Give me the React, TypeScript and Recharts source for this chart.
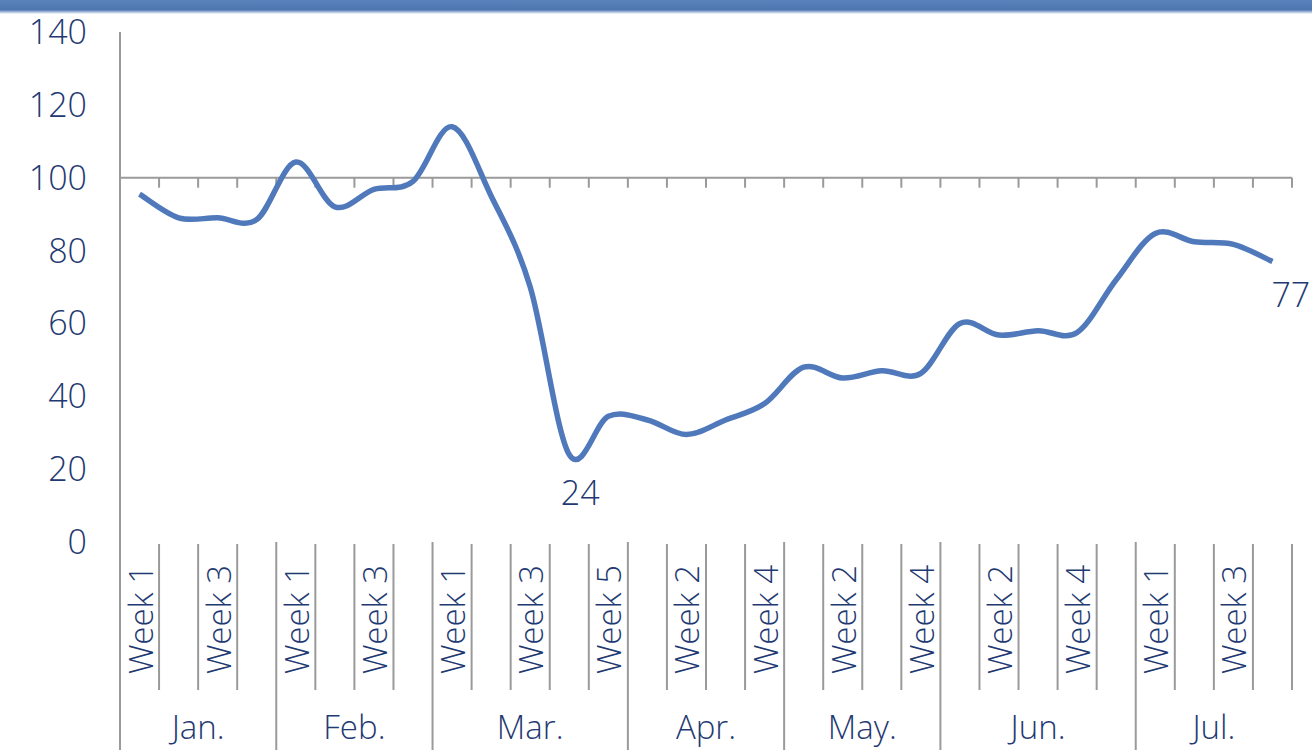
import React from 'react';
import { LineChart, Line, XAxis, YAxis, ReferenceLine, LabelList } from 'recharts';

const months = ['Jan.', 'Feb.', 'Mar.', 'Apr.', 'May.', 'Jun.', 'Jul.'];
const weeksPerMonth = [4, 4, 5, 4, 4, 5, 4];
const values = [
  95.5, 89, 89, 88.5, 104.3, 92, 96.8, 99,
  114, 95, 70, 24, 34.5, 33.5,
  29.5, 33.5, 38, 48, 45, 47, 46.3,
  60, 56.8, 58, 57.5, 72, 84.7, 82.4, 81.7, 77,
];
const yTicks = [0, 20, 40, 60, 80, 100, 120, 140];
const crossAt = 100; // horizontal axis crosses here
const labeledPoints = [11, 29];

const W = 1312;
const H = 750;
const MARGIN = { top: 32, right: 20, left: 0, bottom: 0 };
const Y_AXIS_W = 120;
const X_AXIS_H = 208;
const TEXT = '#1f3a72';
const GRID = '#9a9a9a';
const LINE = '#5079bc';
const FONT = '"Open Sans", "Liberation Sans", sans-serif';
const WEIGHT = 300;

// build week categories from the month table
const monthStart: number[] = [];
const weekMonth: number[] = [];
const data: { key: string; week: string; value: number }[] = [];
months.forEach((m, mi) => {
  monthStart.push(data.length);
  for (let w = 1; w <= weeksPerMonth[mi]; w++) {
    weekMonth.push(mi);
    data.push({ key: `${m} Week ${w}`, week: `Week ${w}`, value: values[data.length] });
  }
});

const BAND = (W - MARGIN.right - Y_AXIS_W) / data.length;

// Excel-style smoothed line (Catmull-Rom through the points)
const smoothCurve = (context: any) => {
  let pts: number[][] = [];
  return {
    areaStart() {},
    areaEnd() {},
    lineStart() {
      pts = [];
    },
    point(x: number, y: number) {
      pts.push([+x, +y]);
    },
    lineEnd() {
      if (!pts.length) return;
      context.moveTo(pts[0][0], pts[0][1]);
      for (let i = 0; i < pts.length - 1; i++) {
        const p0 = pts[i - 1] || pts[i];
        const p1 = pts[i];
        const p2 = pts[i + 1];
        const p3 = pts[i + 2] || pts[i + 1];
        context.bezierCurveTo(
          p1[0] + (p2[0] - p0[0]) / 6,
          p1[1] + (p2[1] - p0[1]) / 6,
          p2[0] - (p3[0] - p1[0]) / 6,
          p2[1] - (p3[1] - p1[1]) / 6,
          p2[0],
          p2[1]
        );
      }
    },
  };
};

const WeekTick = (props: any) => {
  const { x, y, payload } = props;
  const i = payload.index;
  const left = x - BAND / 2;
  const isStart = monthStart.includes(i);
  const mi = weekMonth[i];
  return (
    <g>
      {isStart ? (
        <line x1={left} y1={y} x2={left} y2={H} stroke={GRID} strokeWidth={2} />
      ) : (
        <line x1={left} y1={y + 2} x2={left} y2={y + 148} stroke={GRID} strokeWidth={2} />
      )}
      {i === data.length - 1 && (
        <line x1={x + BAND / 2} y1={y + 2} x2={x + BAND / 2} y2={y + 148} stroke={GRID} strokeWidth={2} />
      )}
      {i % 2 === 0 && (
        <text
          x={x + 13}
          y={y + 23}
          transform={`rotate(-90 ${x + 13} ${y + 23})`}
          textAnchor="end"
          fill={TEXT}
          fontSize={33}
          fontWeight={WEIGHT}
          fontFamily={FONT}
        >
          {data[i].week}
        </text>
      )}
      {isStart && (
        <text
          x={left + (weeksPerMonth[mi] * BAND) / 2}
          y={y + 197}
          textAnchor="middle"
          fill={TEXT}
          fontSize={33}
          fontWeight={WEIGHT}
          fontFamily={FONT}
        >
          {months[mi]}
        </text>
      )}
    </g>
  );
};

const CrossLine = (props: any) => {
  const { x1, y1, x2 } = props;
  const step = (x2 - x1) / data.length;
  return (
    <g>
      <line x1={x1} y1={y1} x2={x2} y2={y1} stroke={GRID} strokeWidth={2} />
      {data.map((d, k) => (
        <line
          key={d.key}
          x1={x1 + step * (k + 1)}
          y1={y1}
          x2={x1 + step * (k + 1)}
          y2={y1 + 10}
          stroke={GRID}
          strokeWidth={2}
        />
      ))}
    </g>
  );
};

const PointLabel = (props: any) => {
  const { x, y, value, index } = props;
  if (!labeledPoints.includes(index)) return null;
  const last = index === data.length - 1;
  return (
    <text
      x={last ? x - 1 : x + 11}
      y={last ? y + 45 : y + 50}
      textAnchor={last ? 'start' : 'middle'}
      fill={TEXT}
      fontSize={34}
      fontWeight={WEIGHT}
      fontFamily={FONT}
    >
      {Math.round(value)}
    </text>
  );
};

export default function App() {
  return (
    <div style={{ position: 'absolute', left: 0, top: 0, width: W, height: H, background: '#fff', overflow: 'hidden' }}>
      <div
        style={{
          position: 'absolute',
          left: 0,
          top: 0,
          width: W,
          height: 14,
          background: 'linear-gradient(#5a83bd 0%, #4e77b0 70%, #b5c8e2 88%, #ffffff 100%)',
        }}
      />
      <LineChart width={W} height={H} data={data} margin={MARGIN}>
        <YAxis
          width={Y_AXIS_W}
          domain={[0, 140]}
          ticks={yTicks}
          interval={0}
          tickLine={false}
          tickSize={0}
          tickMargin={33}
          axisLine={{ stroke: GRID, strokeWidth: 2 }}
          tick={{ fill: TEXT, fontSize: 34, fontWeight: WEIGHT, fontFamily: FONT }}
        />
        <XAxis
          dataKey="key"
          scale="band"
          height={X_AXIS_H}
          interval={0}
          axisLine={false}
          tickLine={false}
          tickSize={0}
          tickMargin={0}
          tick={<WeekTick />}
        />
        <ReferenceLine y={crossAt} shape={<CrossLine />} />
        <Line
          dataKey="value"
          type={smoothCurve as any}
          stroke={LINE}
          strokeWidth={5.5}
          dot={false}
          activeDot={false}
          isAnimationActive={false}
        >
          <LabelList dataKey="value" content={<PointLabel />} />
        </Line>
      </LineChart>
    </div>
  );
}
